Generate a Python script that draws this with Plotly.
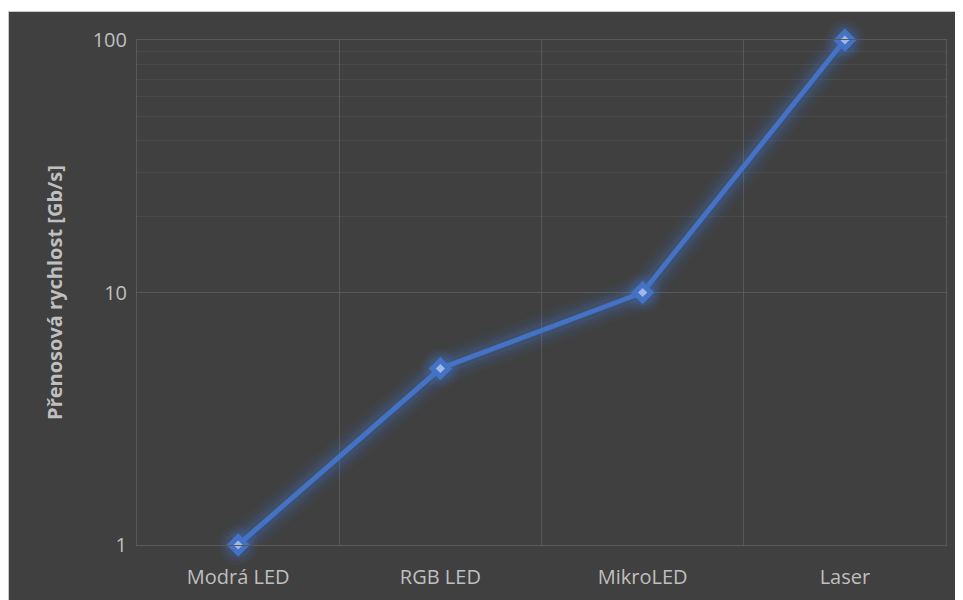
import plotly.graph_objects as go

categories = ["Modrá LED", "RGB LED", "MikroLED", "Laser"]
values = [1, 5, 10, 100]
y_title = "Přenosová rychlost [Gb/s]"
major_ticks = [1, 10, 100]
minor_upper = [20, 30, 40, 50, 60, 70, 80, 90]
minor_lower = [2, 3, 4, 5, 6, 7, 8, 9]

BG = "#404040"
BLUE = "#4472C4"
GRID = "#595959"
MINOR = "#4a4a4a"
MINOR_FAINT = "#444444"
TXT = "#bfbfbf"
FONT = "Open Sans"

W, H = 963, 600
L, R, T, B = 129, 25, 32, 63
pw, ph = W - L - R, H - T - B

fig = go.Figure()

# faint minor gridlines in the lower decade
for v in minor_lower:
    fig.add_shape(type="line", xref="paper", yref="y", x0=0, x1=1, y0=v, y1=v,
                  line=dict(color=MINOR_FAINT, width=1), layer="below")

# glow layers
for w, a in [(34, 0.05), (27, 0.07), (20, 0.10), (14, 0.15)]:
    fig.add_trace(go.Scatter(
        x=categories, y=values, mode="lines",
        line=dict(color=f"rgba(68,114,196,{a})", width=w),
        hoverinfo="skip", showlegend=False, cliponaxis=False))
for s, a in [(40, 0.07), (33, 0.11), (26, 0.17)]:
    fig.add_trace(go.Scatter(
        x=categories, y=values, mode="markers",
        marker=dict(symbol="circle", size=s, color=f"rgba(68,114,196,{a})"),
        hoverinfo="skip", showlegend=False, cliponaxis=False))

fig.add_trace(go.Scatter(
    x=categories, y=values, mode="lines+markers",
    line=dict(color=BLUE, width=5),
    marker=dict(symbol="diamond", size=18, color=BLUE),
    showlegend=False, cliponaxis=False))
fig.add_trace(go.Scatter(
    x=categories, y=values, mode="markers",
    marker=dict(symbol="diamond", size=7, color="#9fb8e8"),
    showlegend=False, cliponaxis=False, hoverinfo="skip"))

# dark chart background with a thin light border (white strip at top)
fig.add_shape(type="rect", xref="paper", yref="paper",
              x0=-L / pw + 0.5 / pw, x1=(W - L) / pw + 0.05,
              y0=-B / ph - 0.05, y1=1 + (T - 3.5) / ph,
              fillcolor=BG, line=dict(color="#c8c8c8", width=1), layer="below")

fig.update_layout(
    width=W, height=H,
    margin=dict(l=L, r=R, t=T, b=B),
    paper_bgcolor="white", plot_bgcolor=BG,
    font=dict(family=FONT, color=TXT, size=20),
    xaxis=dict(type="category", range=[-0.5, 3.5], tickson="boundaries",
               showgrid=True, gridcolor=GRID, gridwidth=1,
               showline=True, linecolor=GRID, mirror=True,
               ticks="", tickfont=dict(size=20, color=TXT),
               ticklabelstandoff=14, zeroline=False),
    yaxis=dict(type="log", range=[0, 2],
               tickvals=major_ticks, ticktext=[str(v) for v in major_ticks],
               showgrid=True, gridcolor=GRID, gridwidth=1,
               minor=dict(showgrid=True, gridcolor=MINOR, gridwidth=1, ticks="",
                          tickvals=minor_upper),
               showline=True, linecolor=GRID, mirror=True,
               ticks="", tickfont=dict(size=20, color=TXT),
               ticklabelstandoff=5,
               title=dict(text=f"<b>{y_title}</b>", font=dict(size=20, color=TXT),
                          standoff=24)),
)

fig.write_html("out.html")
